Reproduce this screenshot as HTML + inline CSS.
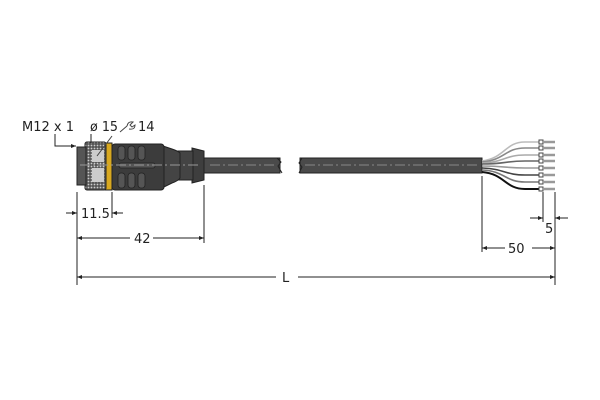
<!DOCTYPE html>
<html><head><meta charset="utf-8"><style>
html,body{margin:0;padding:0;background:#fff;width:600px;height:400px;overflow:hidden}
text{font-family:"DejaVu Sans","Liberation Sans",sans-serif;font-size:13px;fill:#222}
</style></head><body>
<svg width="600" height="400" viewBox="0 0 600 400" xmlns="http://www.w3.org/2000/svg">
<defs>
<marker id="a" viewBox="0 0 10 10" refX="10" refY="5" markerWidth="7" markerHeight="5" orient="auto-start-reverse"><path d="M0,1 L10,5 L0,9z" fill="#222"/></marker>
<pattern id="k" width="3" height="3" patternUnits="userSpaceOnUse"><rect width="3" height="3" fill="#555"/><circle cx="1.5" cy="1.5" r="0.9" fill="#ccc"/></pattern>
</defs>
<!-- cable -->
<rect x="200" y="158" width="80" height="15" fill="#4a4a4a" stroke="#222"/>
<path d="M277 158 l4 4 l-3 4 l4 7" fill="none" stroke="#222"/>
<rect x="300" y="158" width="182" height="15" fill="#4a4a4a" stroke="#222"/>
<path d="M302 158 l-3 5 l3 4 l-3 6" fill="none" stroke="#222"/>
<line x1="210" y1="165" x2="275" y2="165" stroke="#888" stroke-dasharray="10,3,2,3"/>
<line x1="305" y1="165" x2="478" y2="165" stroke="#888" stroke-dasharray="10,3,2,3"/>
<!-- wires -->
<g fill="none" stroke-width="1.6">
<path d="M482 161 C505 158,505 142,525 142 L541 142" stroke="#bbb"/>
<path d="M482 162 C505 160,505 148,525 148 L541 148" stroke="#888"/>
<path d="M482 163 C505 162,505 155,525 155 L541 155" stroke="#aaa"/>
<path d="M482 164 C505 164,505 161,525 161 L541 161" stroke="#666"/>
<path d="M482 166 C505 166,505 168,525 168 L541 168" stroke="#999"/>
<path d="M482 168 C505 169,505 175,525 175 L541 175" stroke="#444"/>
<path d="M482 170 C505 171,505 182,525 182 L541 182" stroke="#777"/>
<path d="M482 172 C505 174,505 189,525 189 L541 189" stroke="#111" stroke-width="2"/>
</g>
<g fill="#fff" stroke="#444" stroke-width="1">
<rect x="539" y="140" width="4" height="4"/><rect x="539" y="146" width="4" height="4"/><rect x="539" y="153" width="4" height="4"/><rect x="539" y="159" width="4" height="4"/><rect x="539" y="166" width="4" height="4"/><rect x="539" y="173" width="4" height="4"/><rect x="539" y="180" width="4" height="4"/><rect x="539" y="187" width="4" height="4"/>
</g>
<g stroke="#999" stroke-width="2.5">
<line x1="543" y1="142" x2="555" y2="142"/><line x1="543" y1="148" x2="555" y2="148"/><line x1="543" y1="155" x2="555" y2="155"/><line x1="543" y1="161" x2="555" y2="161"/><line x1="543" y1="168" x2="555" y2="168"/><line x1="543" y1="175" x2="555" y2="175"/><line x1="543" y1="182" x2="555" y2="182"/><line x1="543" y1="189" x2="555" y2="189"/>
</g>
<!-- connector -->
<path d="M192 148 L204 151 L204 180 L192 183 Z" fill="#3e3e3e" stroke="#222"/>
<rect x="178" y="151" width="15" height="29" fill="#444" stroke="#222"/>
<path d="M160 145 L172 149 Q178 151 180 153 L180 178 Q178 181 172 183 L160 189 Z" fill="#444" stroke="#222"/>
<rect x="112" y="144" width="52" height="46" rx="3" fill="#3c3c3c" stroke="#222"/>
<g fill="#555" stroke="#222" stroke-width="0.8">
<rect x="118" y="146" width="7" height="14" rx="3"/><rect x="128" y="146" width="7" height="14" rx="3"/><rect x="138" y="146" width="7" height="14" rx="3"/>
<rect x="118" y="173" width="7" height="15" rx="3"/><rect x="128" y="173" width="7" height="15" rx="3"/><rect x="138" y="173" width="7" height="15" rx="3"/>
<rect x="119" y="163" width="36" height="5" rx="2"/>
</g>
<rect x="105" y="143" width="7" height="47" fill="#d8a820" stroke="#222"/>
<rect x="85" y="142" width="21" height="48" rx="2" fill="url(#k)" stroke="#222"/>
<rect x="92" y="150" width="12" height="12" fill="#ccc"/><rect x="92" y="168" width="12" height="14" fill="#ccc"/>
<rect x="77" y="147" width="9" height="38" fill="#555" stroke="#222"/>
<line x1="80" y1="165" x2="200" y2="165" stroke="#999" stroke-dasharray="10,3,2,3"/>
<!-- labels top -->
<text x="22" y="131">M12 x 1</text>
<text x="90" y="131" textLength="28" lengthAdjust="spacingAndGlyphs">ø 15</text>
<text x="138" y="131">14</text>
<path d="M55 134 L55 146 L76 146" fill="none" stroke="#222" marker-end="url(#a)"/>
<line x1="91" y1="134" x2="91" y2="143" stroke="#222"/>
<path d="M97 156 L112 136" fill="none" stroke="#444"/>
<path d="M120 132 L127 126 M127 126 q1 -5 6 -4 l-3 3 l2 2 l3 -2 q0 5 -6 4" fill="none" stroke="#444"/>
<!-- dims -->
<g stroke="#222" fill="none">
<line x1="77" y1="192" x2="77" y2="285"/>
<line x1="112" y1="192" x2="112" y2="218"/>
<line x1="204" y1="185" x2="204" y2="243"/>
<line x1="482" y1="176" x2="482" y2="252"/>
<line x1="543" y1="192" x2="543" y2="222"/>
<line x1="555" y1="192" x2="555" y2="285"/>
<line x1="66" y1="213" x2="77" y2="213" marker-end="url(#a)"/>
<line x1="123" y1="213" x2="112" y2="213" marker-end="url(#a)"/>
<line x1="77" y1="238" x2="130" y2="238" marker-start="url(#a)"/>
<line x1="153" y1="238" x2="204" y2="238" marker-end="url(#a)"/>
<line x1="77" y1="277" x2="276" y2="277" marker-start="url(#a)"/>
<line x1="298" y1="277" x2="555" y2="277" marker-end="url(#a)"/>
<line x1="482" y1="248" x2="505" y2="248" marker-start="url(#a)"/>
<line x1="532" y1="248" x2="555" y2="248" marker-end="url(#a)"/>
<line x1="530" y1="218" x2="543" y2="218" marker-end="url(#a)"/>
<line x1="568" y1="218" x2="555" y2="218" marker-end="url(#a)"/>
</g>
<text x="81" y="218">11.5</text>
<text x="134" y="243">42</text>
<text x="282" y="282">L</text>
<text x="508" y="253">50</text>
<text x="545" y="233">5</text>
</svg>
</body></html>
